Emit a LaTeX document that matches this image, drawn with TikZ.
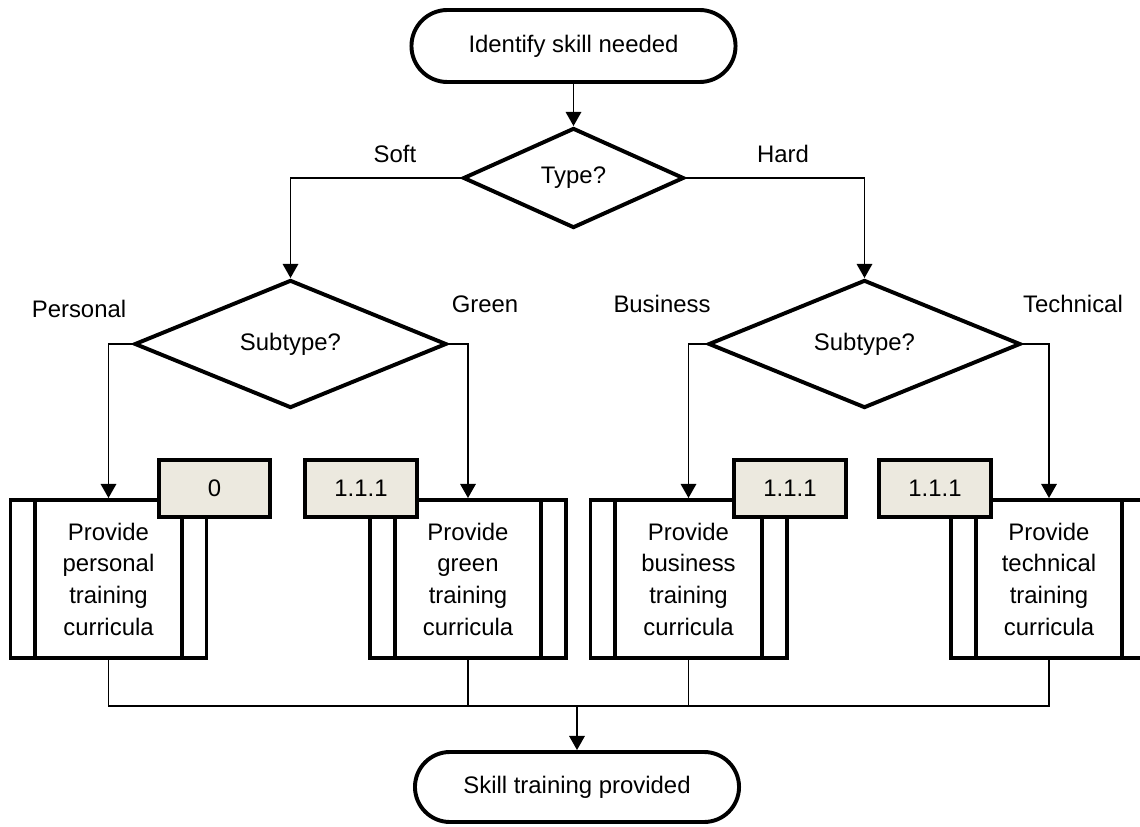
\documentclass[tikz,border=0pt]{standalone}
\usepackage{fontspec}
\setmainfont{Liberation Sans}
\usepackage{xcolor}
\usetikzlibrary{arrows.meta,shapes.geometric}
\definecolor{tagBeige}{RGB}{236,233,223}
\tikzset{
term/.style = {rectangle, draw=black, line width=2.8pt, rounded corners=0.9cm,
               minimum width=8.1cm, minimum height=1.8cm}
}
\tikzset{
decision/.style = {diamond, draw=black, line width=2.8pt, inner sep=0pt,
                   minimum width=#1, minimum height=3.2cm},
decision/.default = 7.8cm
}
\tikzset{
proc/.style = {rectangle, draw=black, line width=2.8pt, align=center,
               minimum width=4.9cm, minimum height=3.95cm,
               path picture={
                 \draw[line width=2.8pt] ([xshift=0.62cm]path picture bounding box.north west)
                   -- ([xshift=0.62cm]path picture bounding box.south west);
                 \draw[line width=2.8pt] ([xshift=-0.62cm]path picture bounding box.north east)
                   -- ([xshift=-0.62cm]path picture bounding box.south east);
               }}
}
\tikzset{
tag/.style = {rectangle, draw=black, fill=tagBeige, line width=2.8pt,
              minimum width=2.78cm, minimum height=1.42cm}
}
\tikzset{
arr/.style = {-{Triangle[length=10pt, width=11pt]}, line width=1.2pt},
conn/.style = {line width=1.2pt}
}

\begin{document}
\begin{tikzpicture}[x=0.025cm, y=-0.025cm, font=\fontsize{17}{22.5}\selectfont]
    \useasboundingbox (0,0) rectangle (1140,827);

    \node[term] (startTerm) at (573.5,46) {Identify skill needed};
    \node[decision=5.52cm, minimum height=2.5cm] (typeDec) at (573.5,178) {Type?};

    \node[decision] (softDec) at (290.5,344) {Subtype?};
    \node[decision] (hardDec) at (864.5,344) {Subtype?};

    \node[proc] (persBox) at (108.5,579) {Provide\\personal\\training\\curricula};
    \node[proc] (greenBox) at (468,579) {Provide\\green\\training\\curricula};
    \node[proc] (busBox) at (688.5,579) {Provide\\business\\training\\curricula};
    \node[proc] (techBox) at (1049,579) {Provide\\technical\\training\\curricula};

    % number tags over the boxes
    \node[tag] (persTag) at (214.5,488.5) {0};
    \node[tag] (greenTag) at (361,488.5) {1.1.1};
    \node[tag] (busTag) at (790,488.5) {1.1.1};
    \node[tag] (techTag) at (935,488.5) {1.1.1};

    \node[term, minimum height=1.75cm, rounded corners=0.875cm] (endTerm) at (577,787) {Skill training provided};

    \node (softLbl) at (395,154) {Soft};
    \node (hardLbl) at (783,154) {Hard};
    \node (persLbl) at (79,309) {Personal};
    \node (greenLbl) at (485,304) {Green};
    \node (busLbl) at (662,304) {Business};
    \node (techLbl) at (1073,304) {Technical};

    \draw[arr] (startTerm) -- (typeDec);
    \draw[arr] (typeDec.west) -| (softDec.north);
    \draw[arr] (typeDec.east) -| (hardDec.north);
    \draw[arr] (softDec.west) -| (persBox.north);
    \draw[arr] (softDec.east) -| (greenBox.north);
    \draw[arr] (hardDec.west) -| (busBox.north);
    \draw[arr] (hardDec.east) -| (techBox.north);

    \coordinate (joinPoint) at (577,706);
    \draw[conn] (persBox.south) |- (joinPoint) -| (techBox.south);
    \draw[conn] (greenBox.south) -- (greenBox.south |- joinPoint);
    \draw[conn] (busBox.south) -- (busBox.south |- joinPoint);
    \draw[arr] (joinPoint) -- (endTerm);

\end{tikzpicture}
\end{document}
